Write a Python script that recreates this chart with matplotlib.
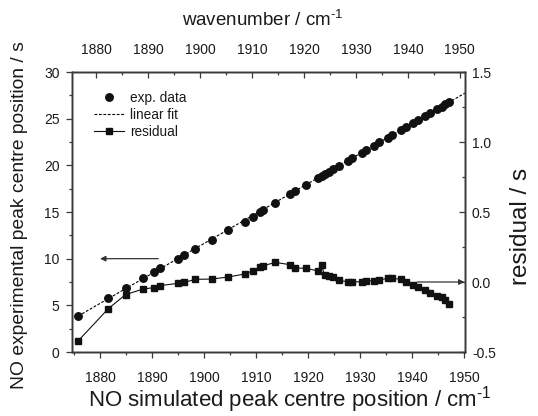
import matplotlib
matplotlib.use("Agg")
import matplotlib.pyplot as plt
from matplotlib.ticker import MultipleLocator
from matplotlib.lines import Line2D

plt.rcParams['font.family'] = ['Liberation Sans', 'DejaVu Sans']
plt.rcParams['mathtext.fontset'] = 'custom'
plt.rcParams['mathtext.rm'] = 'Liberation Sans'
plt.rcParams['mathtext.it'] = 'Liberation Sans'

# simulated peak centre position / cm^-1
sim_pos = [1875.8, 1881.6, 1884.9, 1888.3, 1890.4, 1891.5, 1894.9, 1896.2, 1898.3, 1901.5,
           1904.7, 1907.8, 1909.4, 1910.8, 1911.4, 1913.7, 1916.5, 1917.5, 1919.6, 1921.9,
           1922.6, 1923.2, 1924.0, 1924.9, 1926.0, 1927.6, 1928.4, 1930.3, 1931.2, 1932.7,
           1933.7, 1935.3, 1936.2, 1937.8, 1938.9, 1940.2, 1941.2, 1942.6, 1943.5, 1944.9,
           1945.7, 1946.4, 1947.2]
# experimental peak centre position / s
exp_pos = [3.86, 5.75, 6.89, 7.96, 8.57, 9.00, 10.00, 10.43, 11.04, 12.00,
           13.04, 13.96, 14.50, 15.04, 15.22, 16.00, 16.93, 17.25, 17.92, 18.66,
           18.88, 19.08, 19.33, 19.62, 19.97, 20.49, 20.74, 21.35, 21.64, 22.12,
           22.45, 22.96, 23.25, 23.76, 24.12, 24.53, 24.85, 25.30, 25.59, 26.04,
           26.30, 26.52, 26.78]
# residual / s
residual = [-0.42, -0.19, -0.09, -0.05, -0.04, -0.026, -0.01, -0.003, 0.019, 0.021,
            0.036, 0.057, 0.08, 0.105, 0.116, 0.14, 0.124, 0.10, 0.098, 0.079,
            0.118, 0.05, 0.04, 0.035, 0.014, 0.0, 0.0, 0.002, 0.01, 0.007,
            0.014, 0.026, 0.026, 0.02, 0.0, -0.024, -0.038, -0.057, -0.076, -0.098,
            -0.11, -0.13, -0.16]
# linear fit end points
fit_x = [1875.8, 1950.2]
fit_y = [3.86, 27.74]

bottom_ticks = [1880, 1890, 1900, 1910, 1920, 1930, 1940, 1950]
top_ticks = [1880, 1890, 1900, 1910, 1920, 1930, 1940, 1950]
left_ticks = [0, 5, 10, 15, 20, 25, 30]
right_ticks = [-0.5, 0.0, 0.5, 1.0, 1.5]

fig = plt.figure(figsize=(5.38, 4.16), dpi=100)
ax = fig.add_axes([72/538, 1-352/416, (465-72)/538, (352-72)/416])
axr = ax.twinx()
axt = ax.twiny()

spine_col = '#3a3a3a'
txt_col = '#1a1a1a'
for a in (ax, axr, axt):
    for s in a.spines.values():
        s.set_color(spine_col)
        s.set_linewidth(1.0)

ax.plot(fit_x, fit_y, color='black', lw=0.8, ls=(0, (2.5, 1.5)), zorder=2)
ax.plot(sim_pos, exp_pos, 'o', color='#111111', ms=5.4, zorder=3)
axr.plot(sim_pos, residual, '-s', color='#111111', ms=4.5, lw=0.8, zorder=3)

ax.set_xlim(1874.6, 1950.2)
ax.set_ylim(0, 30)
axr.set_ylim(-0.5, 1.5)
axt.set_xlim(1875.3, 1951.0)

ax.set_xticks(bottom_ticks)
ax.set_yticks(left_ticks)
axr.set_yticks(right_ticks)
axr.set_yticklabels(['%.1f' % v for v in right_ticks])
axt.set_xticks(top_ticks)
ax.xaxis.set_minor_locator(MultipleLocator(5))
ax.yaxis.set_minor_locator(MultipleLocator(2.5))
axr.yaxis.set_minor_locator(MultipleLocator(0.25))
axt.xaxis.set_minor_locator(MultipleLocator(5))

ax.tick_params(axis='x', which='major', direction='out', length=4, width=0.9, pad=10,
               labelsize=10, colors=spine_col, labelcolor=txt_col)
ax.tick_params(axis='y', which='major', direction='out', length=4, width=0.9, pad=5,
               labelsize=10, colors=spine_col, labelcolor=txt_col)
ax.tick_params(axis='both', which='minor', direction='out', length=2.5, width=0.9, colors=spine_col)
axr.tick_params(axis='y', which='major', direction='in', length=4, width=0.9, pad=5,
                labelsize=10, colors=spine_col, labelcolor=txt_col)
axr.tick_params(axis='y', which='minor', direction='in', length=2.5, width=0.9, colors=spine_col)
axt.tick_params(axis='x', which='major', direction='in', length=4, width=0.9, pad=11,
                labelsize=10, colors=spine_col, labelcolor=txt_col)
axt.tick_params(axis='x', which='minor', direction='in', length=2.5, width=0.9, colors=spine_col)

# axis titles
fig.text(290/538, 1-400/416, r'NO simulated peak centre position / cm$^{\text{-1}}$',
         fontsize=16, color=txt_col, ha='center', va='center')
fig.text(20/538, 1-215/416, 'NO experimental peak centre position / s',
         fontsize=13.9, color=txt_col, ha='center', va='center', rotation=90)
fig.text(521/538, 1-226/416, 'residual / s',
         fontsize=17.5, color=txt_col, ha='center', va='center', rotation=90)
fig.text(262.5/538, 1-20/416, r'wavenumber / cm$^{\text{-1}}$',
         fontsize=13.5, color=txt_col, ha='center', va='center')

# arrows
ax.annotate('', xy=(1880, 10), xytext=(1891.2, 10),
            arrowprops=dict(arrowstyle='-|>', color='#333333', lw=0.9,
                            mutation_scale=8, shrinkA=0, shrinkB=0))
ax.annotate('', xy=(1950.1, 0.0), xytext=(1941.0, 0.0), xycoords=axr.transData,
            textcoords=axr.transData,
            arrowprops=dict(arrowstyle='-|>', color='#333333', lw=0.9,
                            mutation_scale=8, shrinkA=0, shrinkB=0))

handles = [Line2D([], [], ls='none', marker='o', color='#111111', ms=5.4),
           Line2D([], [], ls=(0, (2.5, 1.5)), color='black', lw=0.8),
           Line2D([], [], ls='-', marker='s', color='#111111', ms=4.5, lw=0.8)]
labels = ['exp. data', 'linear fit', 'residual']
leg = axt.legend(handles, labels, loc='upper left', bbox_to_anchor=(0.043, 0.951),
                 frameon=False, fontsize=9.8, handlelength=2.2, handletextpad=0.4,
                 labelspacing=0.22, borderaxespad=0)
for t in leg.get_texts():
    t.set_color(txt_col)

fig.savefig('out.png', dpi=100)
